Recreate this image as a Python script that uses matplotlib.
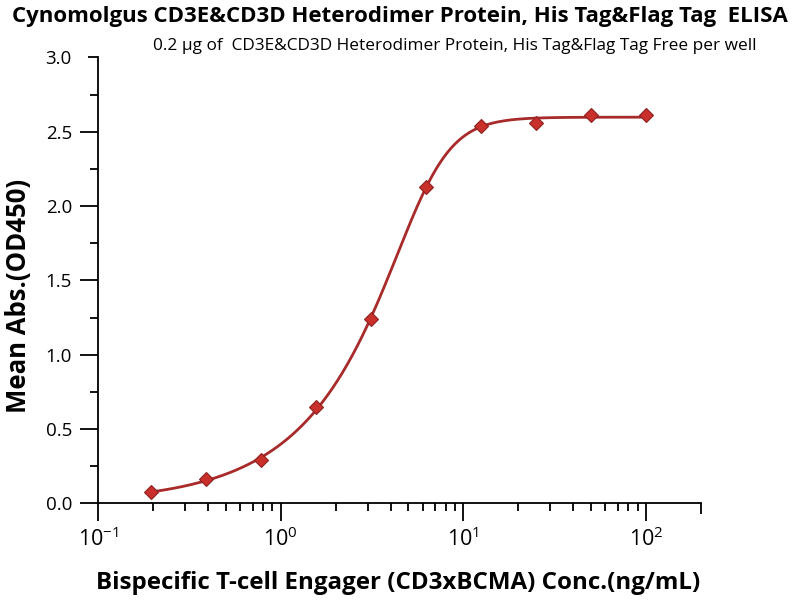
import numpy as np
import matplotlib
matplotlib.use("Agg")
import matplotlib.pyplot as plt
from matplotlib.ticker import FixedLocator, NullFormatter

# ---- data ----
conc = [0.195, 0.39, 0.78, 1.5625, 3.125, 6.25, 12.5, 25, 50, 100]
od450 = [0.077, 0.162, 0.292, 0.648, 1.238, 2.13, 2.538, 2.556, 2.614, 2.614]
y_ticks = [0.0, 0.5, 1.0, 1.5, 2.0, 2.5, 3.0]
y_tick_labels = ["0.0", "0.5", "1.0", "1.5", "2.0", "2.5", "3.0"]
x_ticks = [0.1, 1, 10, 100]
x_tick_labels = [r"$10^{-1}$", r"$10^{0}$", r"$10^{1}$", r"$10^{2}$"]

title = "Cynomolgus CD3E&CD3D Heterodimer Protein, His Tag&Flag Tag  ELISA"
subtitle = "0.2 \u03bcg of  CD3E&CD3D Heterodimer Protein, His Tag&Flag Tag Free per well"
xlabel = "Bispecific T-cell Engager (CD3xBCMA) Conc.(ng/mL)"
ylabel = "Mean Abs.(OD450)"

# ---- 5PL fit: grid search over EC, hill, asymmetry; linear LSQ for bottom/top ----
x = np.array(conc)[None, None, None, :]
y = np.array(od450)
lec = np.linspace(0.1, 1.1, 101)[:, None, None, None]
hh = np.linspace(0.8, 4.0, 65)[None, :, None, None]
ss = np.linspace(0.2, 2.0, 37)[None, None, :, None]
f = 1.0 / (1.0 + (10 ** lec / x) ** hh) ** ss
u = 1 - f
v = f
suu = (u * u).sum(-1); suv = (u * v).sum(-1); svv = (v * v).sum(-1)
suy = (u * y).sum(-1); svy = (v * y).sum(-1)
det = suu * svv - suv ** 2
det = np.where(np.abs(det) < 1e-12, 1e-12, det)
b = (suy * svv - svy * suv) / det
t = (suu * svy - suv * suy) / det
res = ((b[..., None] * u + t[..., None] * v - y) ** 2).sum(-1)
i, j, k = np.unravel_index(np.argmin(res), res.shape)
L, H, S, B, T = lec[i, 0, 0, 0], hh[0, j, 0, 0], ss[0, 0, k, 0], b[i, j, k], t[i, j, k]
xf = np.logspace(np.log10(min(conc)), np.log10(max(conc)), 400)
ff = 1.0 / (1.0 + (10 ** L / xf) ** H) ** S
yf = B + (T - B) * ff

# ---- plot ----
plt.rcParams["font.family"] = ["Open Sans", "DejaVu Sans"]
plt.rcParams["mathtext.fontset"] = "custom"
plt.rcParams["mathtext.rm"] = "Open Sans"
plt.rcParams["mathtext.it"] = "Open Sans"

fig = plt.figure(figsize=(8, 6), dpi=100)
ax = fig.add_axes([0.1229, 0.161, 0.876 - 0.1229, 0.9043 - 0.161])

line_col = "#A82A2A"
ax.plot(xf, yf, color=line_col, lw=2.0, zorder=2)
ax.plot(conc, od450, linestyle="none", marker="D", markersize=7.3,
        markerfacecolor="#C9302C", markeredgecolor="#8E2222",
        markeredgewidth=0.8, zorder=3)

ax.set_xscale("log")
ax.set_xlim(0.1, 200)
ax.set_ylim(0.0, 3.0)

for s in ["top", "right"]:
    ax.spines[s].set_visible(False)
for s in ["left", "bottom"]:
    ax.spines[s].set_linewidth(1.3)
    ax.spines[s].set_color("black")

ax.xaxis.set_major_locator(FixedLocator(x_ticks))
ax.set_xticklabels(x_tick_labels)
minors = [m * 10.0 ** p for p in (-1, 0, 1) for m in range(2, 10)] + [200]
ax.xaxis.set_minor_locator(FixedLocator(minors))
ax.xaxis.set_minor_formatter(NullFormatter())

ax.yaxis.set_major_locator(FixedLocator(y_ticks))
ax.set_yticklabels(y_tick_labels)
ax.yaxis.set_minor_locator(FixedLocator([0.25, 0.75, 1.25, 1.75, 2.25, 2.75]))

ax.tick_params(axis="both", which="major", direction="out", length=13,
               width=1.3, labelsize=13.5, pad=4, color="black")
ax.tick_params(axis="both", which="minor", direction="out", length=6,
               width=1.3, color="black")
ax.tick_params(axis="x", which="major", pad=4, labelsize=15.5)
ax.tick_params(axis="y", which="major", pad=6)
# end ticks are short
ax.yaxis.get_major_ticks()[-1].tick1line.set_markersize(7)
ax.xaxis.get_minor_ticks()[-1].tick1line.set_markersize(8)

fig.text(0.5, 0.972, title, ha="center", va="center", fontsize=16,
         fontweight="bold")
fig.text(0.569, 0.923, subtitle, ha="center", va="center", fontsize=12.4)
fig.text(0.023, 0.507, ylabel, ha="center", va="center", rotation=90,
         fontsize=18.5, fontweight="bold")
fig.text(0.498, 0.0183, xlabel, ha="center", va="baseline", fontsize=17.4,
         fontweight="bold")

fig.savefig("out.png", dpi=100, facecolor="white")
